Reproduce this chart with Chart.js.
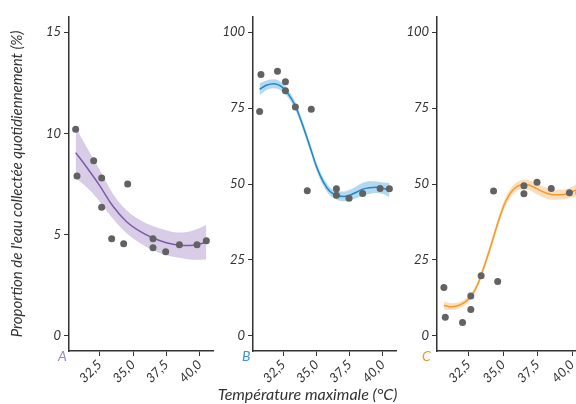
<!DOCTYPE html>
<html>
<head>
<meta charset="utf-8">
<script src="https://cdn.jsdelivr.net/npm/chart.js@4.4.1/dist/chart.umd.min.js"></script>
<style>
  html, body { margin: 0; padding: 0; width: 576px; height: 404px; overflow: hidden; background: #fff; }
  canvas { position: absolute; top: 0; }
</style>
</head>
<body>
<canvas id="chartA" width="218" height="404" style="left:0px"></canvas>
<canvas id="chartB" width="190" height="404" style="left:210px"></canvas>
<canvas id="chartC" width="190" height="404" style="left:400px"></canvas>
<script>
// observed days: max temperature and share of water collected
const temps = [30.7, 30.8, 32.05, 32.65, 32.65, 33.4, 34.3, 34.6, 36.5, 36.5, 37.45, 38.48, 39.8, 40.5];
const propA = [10.2, 7.9, 8.65, 7.8, 6.35, 4.8, 4.55, 7.5, 4.8, 4.35, 4.15, 4.5, 4.5, 4.7];
const propB = [73.9, 86.1, 87.1, 83.7, 80.7, 75.4, 47.8, 74.6, 48.4, 46.3, 45.3, 46.9, 48.5, 48.4];
const propC = [15.9, 6.1, 4.4, 8.7, 13.1, 19.8, 47.7, 17.9, 46.8, 49.4, 50.6, 48.5, 47.1, 47.0];

// fitted curves + confidence band
const fitXA = [30.7, 31.5, 32.5, 33.5, 34.5, 35.5, 36.5, 37.5, 38.5, 39.5, 40.5];
const fitA = [9.05, 8.35, 7.42, 6.4, 5.65, 5.17, 4.83, 4.6, 4.48, 4.48, 4.62];
const upA = [10.3, 9.35, 8.2, 7.02, 6.22, 5.74, 5.43, 5.22, 5.1, 5.2, 5.47];
const loA = [7.8, 7.35, 6.64, 5.78, 5.08, 4.6, 4.23, 3.98, 3.86, 3.76, 3.77];

const fitXB = [30.7, 31.2, 31.8, 32.3, 32.8, 33.4, 34.0, 34.5, 35.0, 35.5, 36.0, 36.5, 37.0, 37.5, 38.0, 38.5, 39.0, 39.5, 40.0, 40.5];
const fitB = [81.2, 82.5, 83.0, 82.2, 80.0, 75.7, 68.8, 62.3, 55.7, 50.8, 47.6, 46.3, 45.9, 46.3, 47.3, 48.3, 48.8, 48.9, 48.6, 48.0];
const upB = [83.2, 84.1, 84.5, 83.6, 81.3, 77.0, 70.1, 63.6, 57.0, 52.1, 48.9, 47.7, 47.5, 48.1, 49.3, 50.4, 50.9, 50.8, 50.5, 50.3];
const loB = [79.2, 80.9, 81.5, 80.8, 78.7, 74.4, 67.5, 61.0, 54.4, 49.5, 46.3, 44.9, 44.3, 44.5, 45.3, 46.2, 46.7, 47.0, 46.7, 45.7];

const fitXC = [30.7, 31.2, 31.7, 32.2, 32.7, 33.2, 33.7, 34.2, 34.7, 35.2, 35.7, 36.2, 36.7, 37.2, 37.7, 38.2, 38.7, 39.2, 39.7, 40.2, 40.5];
const fitC = [10.0, 9.6, 9.9, 11.0, 13.2, 17.5, 24.0, 31.0, 38.5, 44.5, 48.0, 49.6, 49.8, 49.0, 47.8, 46.9, 46.5, 46.5, 46.9, 47.8, 48.4];
const upC = [11.3, 10.7, 10.9, 12.0, 14.2, 18.6, 25.2, 32.3, 39.9, 46.0, 49.5, 51.1, 51.4, 50.7, 49.6, 48.7, 48.2, 48.1, 48.5, 49.7, 50.6];
const loC = [8.7, 8.5, 8.9, 10.0, 12.2, 16.4, 22.8, 29.7, 37.1, 43.0, 46.5, 48.1, 48.2, 47.3, 46.0, 45.1, 44.8, 44.9, 45.3, 45.9, 46.2];

const xTicks = [32.5, 35.0, 37.5, 40.0];
const yTicksA = [0, 5, 10, 15];
const yTicksBC = [0, 25, 50, 75, 100];

const axisColor = '#333333';
const tickFont = { family: 'Lato', style: 'italic', size: 13 };

function pts(xs, ys) {
    return xs.map((x, i) => ({ x: x, y: ys[i] }));
}

function panelText(letter, color, lx, extra) {
    return {
        id: 'panelText' + letter,
        afterDraw(chart) {
            const ctx = chart.ctx;
            ctx.save();
            ctx.font = 'italic 14px Lato';
            ctx.fillStyle = color;
            ctx.textAlign = 'left';
            ctx.textBaseline = 'alphabetic';
            ctx.fillText(letter, lx, 361);
            if (extra) {
                ctx.font = 'italic 16px Lato';
                ctx.fillStyle = '#333333';
                ctx.textAlign = 'center';
                ctx.fillText(extra.text, extra.x, 400);
            }
            ctx.restore();
        }
    };
}

function makePanel(id, p) {
    const ctx = document.getElementById(id);
    const curve = p.smooth === 'bezier' ? { tension: 0.4 } : { cubicInterpolationMode: 'monotone' };
    return new Chart(ctx, {
        type: 'line',
        data: {
            datasets: [{
                data: pts(p.fx, p.up),
                borderWidth: 0,
                pointRadius: 0,
                fill: false,
                ...curve,
                order: 3
            }, {
                data: pts(p.fx, p.lo),
                borderWidth: 0,
                pointRadius: 0,
                fill: '-1',
                backgroundColor: p.band,
                ...curve,
                order: 2
            }, {
                data: pts(p.fx, p.fit),
                borderColor: p.line,
                borderWidth: 1.5,
                pointRadius: 0,
                fill: false,
                ...curve,
                order: 1
            }, {
                data: pts(temps, p.obs),
                showLine: false,
                pointRadius: 3.5,
                pointBorderWidth: 0,
                pointBackgroundColor: '#626262',
                order: 0
            }]
        },
        options: {
            responsive: false,
            devicePixelRatio: 1,
            animation: false,
            layout: { padding: { top: 17, right: p.padRight, left: 0, bottom: 0 } },
            plugins: { legend: { display: false }, tooltip: { enabled: false } },
            scales: {
                x: {
                    type: 'linear',
                    min: 30.2,
                    max: 41.0,
                    afterBuildTicks: s => { s.ticks = xTicks.map(v => ({ value: v })); },
                    afterFit: s => { s.height = 53; },
                    grid: { drawOnChartArea: false, color: axisColor, tickLength: 5, lineWidth: 1 },
                    border: { color: axisColor, width: 1.5 },
                    ticks: {
                        autoSkip: false,
                        minRotation: 45,
                        maxRotation: 45,
                        padding: 1,
                        color: axisColor,
                        font: tickFont,
                        callback: v => v.toFixed(1).replace('.', ',')
                    }
                },
                y: {
                    min: p.ymin,
                    max: p.ymax,
                    afterBuildTicks: s => { s.ticks = p.yTicks.map(v => ({ value: v })); },
                    afterFit: s => { s.width = p.axisW; },
                    grid: { drawOnChartArea: false, color: axisColor, tickLength: 5, lineWidth: 1 },
                    border: { color: axisColor, width: 1.5 },
                    ticks: { padding: 3, color: axisColor, font: tickFont },
                    title: p.yTitle ? {
                        display: true,
                        text: p.yTitle,
                        color: axisColor,
                        font: { family: 'Lato', style: 'italic', size: 15 },
                        padding: { top: 8, bottom: 0 }
                    } : { display: false }
                }
            }
        },
        plugins: [p.textPlugin]
    });
}

makePanel('chartA', {
    fx: fitXA, fit: fitA, up: upA, lo: loA, obs: propA, smooth: 'bezier',
    line: '#7a5ca8', band: 'rgba(190, 170, 215, 0.6)',
    ymin: -0.75, ymax: 15.75, yTicks: yTicksA, axisW: 69, padRight: 5,
    yTitle: "Proportion de l'eau collectée quotidiennement (%)",
    textPlugin: panelText('A', '#9d86c4', 58)
});

makePanel('chartB', {
    fx: fitXB, fit: fitB, up: upB, lo: loB, obs: propB,
    line: '#1f87c7', band: 'rgba(140, 195, 232, 0.65)',
    ymin: -5, ymax: 105, yTicks: yTicksBC, axisW: 43, padRight: 3,
    textPlugin: panelText('B', '#3b95d0', 32, { text: 'Température maximale (°C)', x: 97.5 })
});

makePanel('chartC', {
    fx: fitXC, fit: fitC, up: upC, lo: loC, obs: propC,
    line: '#f59a2c', band: 'rgba(250, 200, 140, 0.6)',
    ymin: -5, ymax: 105, yTicks: yTicksBC, axisW: 37, padRight: 0,
    textPlugin: panelText('C', '#f5962a', 22)
});
</script>
</body>
</html>
